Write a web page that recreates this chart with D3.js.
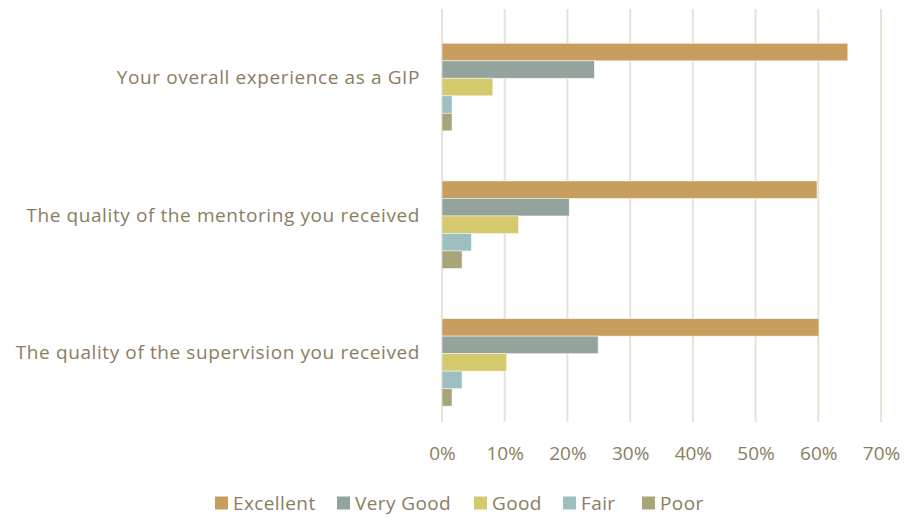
<!DOCTYPE html>
<html>
  <head>
    <meta charset="utf-8">
    <title>GIP ratings</title>
    <style>
      body { margin: 0; background: #fff; }
      text { font-family: "Open Sans", "Liberation Sans", sans-serif; fill: #8b7d5e; }
    </style>
  </head>
  <body>
    <div id="container"></div>
    <script src="https://d3js.org/d3.v7.min.js"></script>
    <script>

      // DATA
      var categories = [
        "Your overall experience as a GIP",
        "The quality of the mentoring you received",
        "The quality of the supervision you received"
      ];
      var seriesNames = ["Excellent", "Very Good", "Good", "Fair", "Poor"];
      var excellent = [64.7, 59.8, 60.1];
      var veryGood = [24.3, 20.3, 24.9];
      var good = [8.1, 12.2, 10.3];
      var fair = [1.6, 4.7, 3.2];
      var poor = [1.6, 3.2, 1.6];
      var tickValues = [0, 10, 20, 30, 40, 50, 60, 70];
      var colors = ["#c89e5e", "#94a49d", "#d4c96c", "#9ebfc0", "#a8a57b"];

      var values = [excellent, veryGood, good, fair, poor];

      var width = 904, height = 517;
      var plot = { left: 442, right: 881, top: 9, bottom: 422 };

      var svg = d3.select("#container")
        .append("svg")
        .attr("width", width)
        .attr("height", height);

      // SCALES
      var x = d3.scaleLinear()
        .domain([0, 70])
        .range([plot.left, plot.right]);

      var y = d3.scaleBand()
        .domain(categories)
        .range([plot.top, plot.bottom]);

      // bars sit a bit low inside each band, like the original
      var ySub = d3.scaleBand()
        .domain(seriesNames)
        .range([34.3, 121.8]);

      // GRIDLINES
      svg.append("g")
        .selectAll("line")
        .data(tickValues)
        .enter()
        .append("line")
        .attr("x1", d => x(d))
        .attr("x2", d => x(d))
        .attr("y1", plot.top)
        .attr("y2", plot.bottom)
        .attr("stroke", "#e5e2d8")
        .attr("stroke-width", 2);

      // BARS
      var rows = [];
      categories.forEach((c, i) => {
        seriesNames.forEach((s, j) => {
          rows.push({ cat: c, series: s, value: values[j][i], color: colors[j] });
        });
      });

      svg.append("g")
        .selectAll("rect")
        .data(rows)
        .enter()
        .append("rect")
        .attr("x", x(0))
        .attr("y", d => y(d.cat) + ySub(d.series))
        .attr("width", d => x(d.value) - x(0))
        .attr("height", ySub.bandwidth())
        .attr("fill", d => d.color)
        .attr("stroke", "#fff")
        .attr("stroke-opacity", 0.6)
        .attr("stroke-width", 0.8);

      // X AXIS LABELS
      var xAxis = svg.append("g")
        .attr("transform", "translate(0," + 453 + ")")
        .call(d3.axisBottom(x).tickValues(tickValues).tickSize(0).tickFormat(d => d + "%"));
      xAxis.select(".domain").remove();
      xAxis.selectAll("text")
        .attr("y", 0)
        .attr("dy", "0.35em")
        .style("font-size", "19px")
        .attr("fill", "#8b7d5e");

      // CATEGORY LABELS
      var yAxis = svg.append("g")
        .attr("transform", "translate(420,0)")
        .call(d3.axisLeft(y).tickSize(0).tickPadding(0));
      yAxis.select(".domain").remove();
      yAxis.selectAll("text")
        .style("font-size", "19px")
        .style("letter-spacing", "0.6px")
        .attr("fill", "#8b7d5e");

      // LEGEND
      var legendX = [215, 337, 474, 563, 642];
      var legend = svg.append("g")
        .selectAll("g")
        .data(seriesNames)
        .enter()
        .append("g")
        .attr("transform", (d, i) => "translate(" + legendX[i] + ",503)");
      legend.append("rect")
        .attr("x", 0)
        .attr("y", -6.5)
        .attr("width", 13)
        .attr("height", 13)
        .attr("fill", (d, i) => colors[i]);
      legend.append("text")
        .attr("x", 18)
        .attr("dy", "0.38em")
        .style("font-size", "19px")
        .style("letter-spacing", "0.4px")
        .text(d => d);

    </script>
  </body>
</html>
